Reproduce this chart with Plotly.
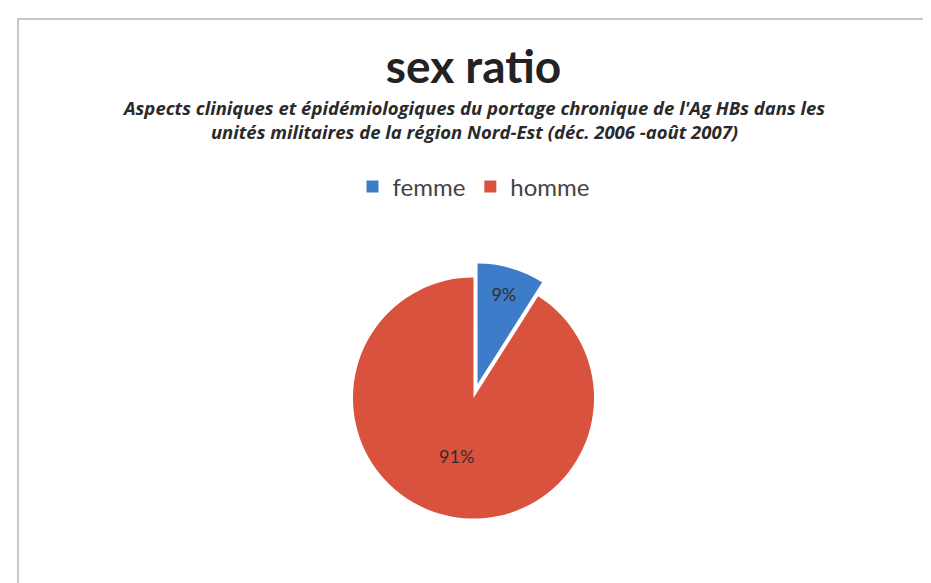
import plotly.graph_objects as go

categories = ["femme", "homme"]
values = [9, 91]
colors = ["#3C7CC8", "#D9523E"]

title_text = "sex ratio"
subtitle_text = ("Aspects cliniques et épidémiologiques du portage chronique de l'Ag HBs dans les<br>"
                 "unités militaires de la région Nord-Est (déc. 2006 -août 2007)")

W, H = 931, 583

fig = go.Figure()
fig.add_trace(go.Pie(
    labels=categories,
    values=values,
    sort=False,
    direction="clockwise",
    rotation=0,
    pull=[0.12, 0],
    marker=dict(colors=colors, line=dict(width=0)),
    textinfo="percent",
    texttemplate="%{percent:.0%}",
    textposition="inside",
    insidetextorientation="horizontal",
    textfont=dict(family="Lato, Open Sans, sans-serif", size=18, color="#3a2a2a"),
    domain=dict(x=[0.15, 0.85], y=[1 - 525 / H, 1 - 255 / H]),
    showlegend=True,
    hoverinfo="label+percent",
))

fig.update_layout(
    width=W, height=H,
    margin=dict(l=0, r=0, t=0, b=0),
    paper_bgcolor="white",
    plot_bgcolor="white",
    title=dict(
        text="<b>" + title_text + "</b>",
        x=0.5, xanchor="center",
        y=1 - 59 / H, yanchor="middle",
        font=dict(family="Lato, Open Sans, sans-serif", size=46, color="#222222"),
    ),
    legend=dict(
        orientation="h",
        x=0.5, xanchor="center",
        y=1 - 179 / H, yanchor="middle",
        font=dict(family="Lato, Open Sans, sans-serif", size=24, color="#444444"),
        itemwidth=30,
    ),
    annotations=[dict(
        text="<b><i>" + subtitle_text + "</i></b>",
        x=0.5, xref="paper", xanchor="center",
        y=1 - 111 / H, yref="paper", yanchor="middle",
        showarrow=False,
        align="center",
        font=dict(family="Open Sans, Lato, sans-serif", size=18.5, color="#2a2a2a"),
    )],
    shapes=[dict(
        type="rect", xref="paper", yref="paper",
        x0=10 / W, x1=1 - 3 / W, y0=-0.02, y1=1 - 11 / H,
        line=dict(color="#b8b8b8", width=1.5),
        fillcolor="rgba(0,0,0,0)",
        layer="below",
    )],
)

fig.write_html("out.html")
